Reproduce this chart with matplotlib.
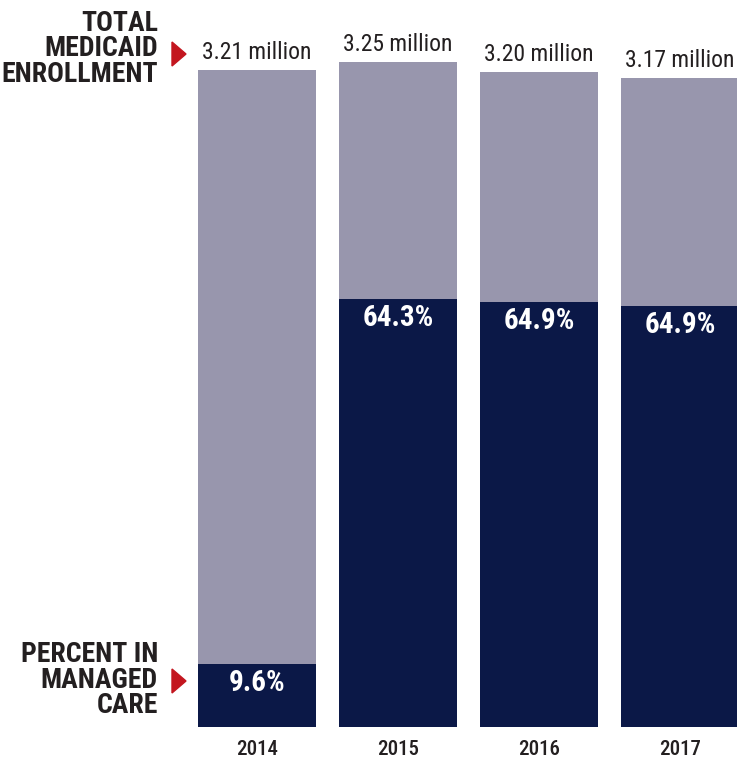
import matplotlib
matplotlib.use("Agg")
import matplotlib.pyplot as plt
from matplotlib.patches import Polygon

years = ["2014", "2015", "2016", "2017"]
total_millions = [3.21, 3.25, 3.20, 3.17]
pct_managed = [9.6, 64.3, 64.9, 64.9]

LIGHT = "#9896ad"
DARK = "#0b1847"
RED = "#c3161f"
INK = "#231f20"
FONT = ["Roboto Condensed", "Roboto", "DejaVu Sans"]

W, H = 737, 759
plt.rcParams["font.family"] = FONT
fig = plt.figure(figsize=(W / 100, H / 100), dpi=100)


def fx(px):
    return px / W


def fy(py):
    return 1 - py / H


# axes covers the full width, baseline at pixel 727
base_px, top_px = 727, 40
ax = fig.add_axes([0, fy(base_px), 1, (base_px - top_px) / H])
ax.set_axis_off()
step = 141.0
c0 = 257.0
ax.set_xlim((0 - c0) / step, (W - c0) / step)
ax.set_ylim(0, (base_px - top_px) / 204.7)

xs = list(range(len(years)))
managed = [t * p / 100 for t, p in zip(total_millions, pct_managed)]
ax.bar(xs, total_millions, width=0.83, color=LIGHT, linewidth=0)
ax.bar(xs, managed, width=0.83, color=DARK, linewidth=0)

for x, t, m, p, yr in zip(xs, total_millions, managed, pct_managed, years):
    ax.annotate(f"{t:.2f} million", (x, t), xytext=(0, 8), textcoords="offset points",
                ha="center", va="baseline", fontsize=17, color=INK)
    ax.annotate(f"{p:.1f}%", (x, m), xytext=(0, -19.5), textcoords="offset points",
                ha="center", va="baseline", fontsize=21, fontweight="bold", color="white")
    ax.annotate(yr, (x, 0), xytext=(0, -20), textcoords="offset points",
                ha="center", va="baseline", fontsize=15, fontweight="medium", color=INK)

fig.text(fx(158), fy(49), "TOTAL\nMEDICAID\nENROLLMENT", ha="right", va="center",
         fontsize=20, fontweight="bold", color=INK, linespacing=0.93)
fig.text(fx(158), fy(680), "PERCENT IN\nMANAGED\nCARE", ha="right", va="center",
         fontsize=20, fontweight="bold", color=INK, linespacing=0.93)

for cy in (54, 681):
    tri = Polygon([(fx(172), fy(cy - 12)), (fx(172), fy(cy + 12)), (fx(186), fy(cy))],
                  closed=True, color=RED, transform=fig.transFigure)
    fig.add_artist(tri)

fig.savefig("out.png", dpi=100, facecolor="white")
